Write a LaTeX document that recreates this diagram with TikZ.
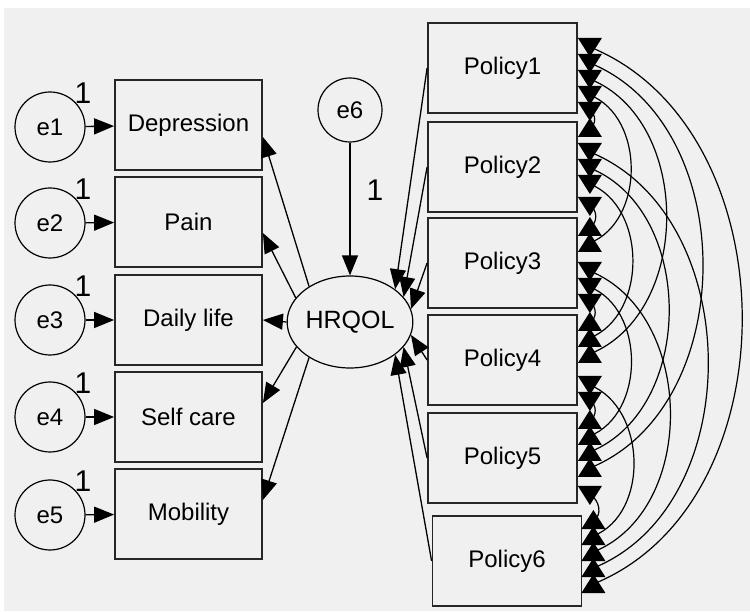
\documentclass[tikz,border=0pt]{standalone}
\usepackage{fontspec}
\setmainfont{Liberation Sans}
\usetikzlibrary{arrows.meta,shapes.geometric}
\definecolor{panel}{HTML}{F0F0F0}
\tikzset{
	obs/.style={draw=black!85,line width=1.8pt,minimum width=147pt,minimum height=90pt,inner sep=0pt,font=\fontsize{24}{28}\selectfont},
	err/.style={draw,circle,line width=1.2pt,minimum size=70pt,inner sep=0pt,font=\fontsize{24}{28}\selectfont},
	lat/.style={draw,ellipse,line width=1.2pt,minimum width=110pt,minimum height=92pt,inner sep=0pt,font=\fontsize{25}{28}\selectfont},
	reg/.style={line width=1.3pt,-{Triangle[length=20pt,width=16pt]}},
	cov/.style={line width=1.2pt,out=-22,in=22,looseness=1.03},
	one/.style={font=\fontsize{30}{34}\selectfont},
	headdn/.pic={\fill (-12,9) -- (12,9) -- (0,-10) -- cycle;},
	headup/.pic={\fill (-12,-9) -- (12,-9) -- (0,10) -- cycle;}
}
\begin{document}
\begin{tikzpicture}[x=1pt,y=1pt]
	\useasboundingbox (0,0) rectangle (750,611);
	\fill[white] (0,0) rectangle (750,611);
	\fill[panel] (4,0) rectangle (750,603);
	% observed indicators
	\node[obs] (dep) at (188.5,486) {Depression};
	\node[obs] (pain) at (188.5,389) {Pain};
	\node[obs] (daily) at (188.5,291) {Daily life};
	\node[obs] (self) at (188.5,194) {Self care};
	\node[obs] (mob) at (188.5,97) {Mobility};
	% error terms
	\node[err] (e1) at (50,484) {e1};
	\node[err] (e2) at (50,388) {e2};
	\node[err] (e3) at (50,291) {e3};
	\node[err] (e4) at (50,194) {e4};
	\node[err] (e5) at (50,96) {e5};
	\node[err,minimum size=64pt] (e6) at (350,501) {e6};
	% latent
	\node[lat] (hrqol) at (350,289) {HRQOL};
	% policies
	\node[obs,minimum width=149pt] (p1) at (502.5,543) {Policy1};
	\node[obs,minimum width=149pt] (p2) at (502.5,444) {Policy2};
	\node[obs,minimum width=149pt] (p3) at (502.5,348) {Policy3};
	\node[obs,minimum width=149pt] (p4) at (502.5,251) {Policy4};
	\node[obs,minimum width=149pt] (p5) at (502.5,153) {Policy5};
	\node[obs,minimum width=149pt] (p6) at (507,50) {Policy6};
	% error paths
	\draw[reg] (e1) -- (dep);
	\draw[reg] (e2) -- (pain);
	\draw[reg] (e3) -- (daily);
	\draw[reg] (e4) -- (self);
	\draw[reg] (e5) -- (mob);
	\draw[reg] (e6) -- (hrqol);
	\node[one] (w1) at ([shift={(33,34)}]e1.center) {1};
	\node[one] (w2) at ([shift={(33,34)}]e2.center) {1};
	\node[one] (w3) at ([shift={(33,34)}]e3.center) {1};
	\node[one] (w4) at ([shift={(33,34)}]e4.center) {1};
	\node[one] (w5) at ([shift={(33,34)}]e5.center) {1};
	\node[one] (w6) at (375,421) {1};
	% loadings
	\draw[reg] (hrqol.139) -- ([yshift=-12]dep.east);
	\draw[reg] (hrqol.156) -- ([yshift=-11]pain.east);
	\draw[reg] (hrqol.west) -- (daily.east);
	\draw[reg] (hrqol.205) -- ([yshift=14]self.east);
	\draw[reg] (hrqol.221) -- ([yshift=14]mob.east);
	% policy effects
	\draw[reg] (p1.west) -- (hrqol.36);
	\draw[reg] (p2.west) -- (hrqol.25);
	\draw[reg] (p3.west) -- (hrqol.12);
	\draw[reg] (p4.west) -- (hrqol.-12);
	\draw[reg] (p5.west) -- (hrqol.-25);
	\draw[reg] (p6.west) -- (hrqol.-36);
	% covariances
	\draw[cov] ([shift={(12,-43)}]p1.east) pic{headdn} to ([shift={(12,39)}]p2.east) pic{headup};
	\draw[cov] ([shift={(12,-27)}]p1.east) pic{headdn} to ([shift={(12,20)}]p3.east) pic{headup};
	\draw[cov] ([shift={(12,-11)}]p1.east) pic{headdn} to ([shift={(12,6)}]p4.east) pic{headup};
	\draw[cov] ([shift={(12,5)}]p1.east) pic{headdn} to ([shift={(12,-10)}]p5.east) pic{headup};
	\draw[cov] ([shift={(12,21)}]p1.east) pic{headdn} to ([shift={(11,-23)}]p6.east) pic{headup};
	\draw[cov] ([shift={(12,-39)}]p2.east) pic{headdn} to ([shift={(12,36)}]p3.east) pic{headup};
	\draw[cov] ([shift={(12,-17)}]p2.east) pic{headdn} to ([shift={(12,22)}]p4.east) pic{headup};
	\draw[cov] ([shift={(12,-1)}]p2.east) pic{headdn} to ([shift={(12,6)}]p5.east) pic{headup};
	\draw[cov] ([shift={(12,15)}]p2.east) pic{headdn} to ([shift={(11,-7)}]p6.east) pic{headup};
	\draw[cov] ([shift={(12,-40)}]p3.east) pic{headdn} to ([shift={(12,38)}]p4.east) pic{headup};
	\draw[cov] ([shift={(12,-24)}]p3.east) pic{headdn} to ([shift={(12,22)}]p5.east) pic{headup};
	\draw[cov] ([shift={(12,-8)}]p3.east) pic{headdn} to ([shift={(11,9)}]p6.east) pic{headup};
	\draw[cov] ([shift={(12,-41)}]p4.east) pic{headdn} to ([shift={(12,38)}]p5.east) pic{headup};
	\draw[cov] ([shift={(12,-25)}]p4.east) pic{headdn} to ([shift={(11,25)}]p6.east) pic{headup};
	\draw[cov] ([shift={(12,-37)}]p5.east) pic{headdn} to ([shift={(11,41)}]p6.east) pic{headup};
\end{tikzpicture}
\end{document}
